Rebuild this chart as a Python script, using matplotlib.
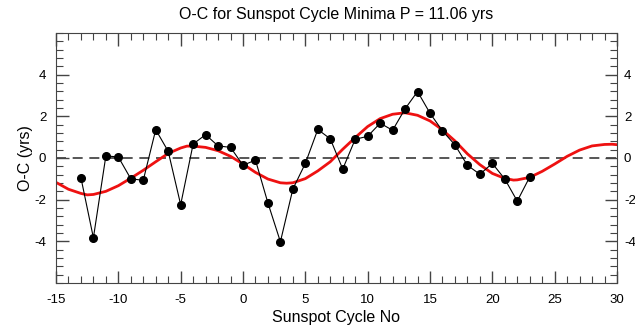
import matplotlib
matplotlib.use("Agg")
import matplotlib.pyplot as plt
from matplotlib.ticker import MultipleLocator

plt.rcParams['font.family'] = ['Liberation Sans', 'DejaVu Sans']
plt.rcParams['axes.unicode_minus'] = False

cycles = [-13, -12, -11, -10, -9, -8, -7, -6, -5, -4, -3, -2, -1, 0, 1, 2, 3, 4,
          5, 6, 7, 8, 9, 10, 11, 12, 13, 14, 15, 16, 17, 18, 19, 20, 21, 22, 23]
oc = [-0.95, -3.83, 0.10, 0.05, -1.00, -1.07, 1.36, 0.32, -2.24, 0.67, 1.12, 0.58,
      0.51, -0.35, -0.10, -2.16, -4.02, -1.49, -0.26, 1.37, 0.92, -0.53, 0.90,
      1.04, 1.67, 1.33, 2.36, 3.19, 2.15, 1.30, 0.63, -0.35, -0.78, -0.26, -1.01,
      -2.07, -0.91]

fit_x = [-15, -14, -13, -12.5, -12, -11, -10, -9, -8, -7, -6, -5, -4.5, -4, -3, -2,
         -1, 0, 1, 2, 3, 3.5, 4, 5, 6, 7, 8, 9, 10, 11, 12, 13, 14, 15, 16, 17,
         18, 19, 20, 21, 21.7, 22, 23, 24, 25, 26, 27, 28, 29, 29.6, 30]
fit_y = [-1.17, -1.50, -1.70, -1.77, -1.75, -1.60, -1.33, -0.97, -0.59, -0.18,
         0.22, 0.48, 0.57, 0.57, 0.51, 0.35, 0.08, -0.29, -0.69, -1.01, -1.19,
         -1.21, -1.19, -0.99, -0.62, -0.18, 0.42, 0.98, 1.51, 1.89, 2.10, 2.17,
         2.05, 1.78, 1.35, 0.82, 0.20, -0.32, -0.74, -0.98, -1.06, -1.05, -0.93,
         -0.64, -0.29, 0.08, 0.38, 0.58, 0.65, 0.66, 0.64]

yticks = [-4, -2, 0, 2, 4]

fig = plt.figure(figsize=(6.35, 3.26), dpi=100)
ax = fig.add_axes([56/635, 1-283/326, (617-56)/635, (283-33)/326])

ax.axhline(0, color='#3a3a3a', lw=1.2, ls=(0, (6, 4)), zorder=1)
ax.plot(fit_x, fit_y, color='#ee1111', lw=2.0, zorder=2)
ax.plot(cycles, oc, color='black', lw=0.8, marker='o', ms=5.5, zorder=3)

ax.set_xlim(-15, 30)
ax.set_ylim(-6, 6)
ax.xaxis.set_major_locator(MultipleLocator(5))
ax.xaxis.set_minor_locator(MultipleLocator(1))
ax.yaxis.set_minor_locator(MultipleLocator(0.4))
ax.set_yticks(yticks)
ax.tick_params(which='both', direction='in', top=True, right=True,
               labelsize=9.5, color='#444444')
ax.tick_params(axis='x', which='major', pad=8)
ax.tick_params(axis='y', which='major', pad=7)
ax.tick_params(which='major', length=9, width=1)
ax.tick_params(which='minor', length=5, width=0.8)
for s in ax.spines.values():
    s.set_color('#444444')

sec = ax.secondary_yaxis('right')
sec.set_yticks(yticks)
sec.tick_params(length=0, pad=5, labelsize=9.5)
sec.spines['right'].set_visible(False)

ax.set_title('O-C for Sunspot Cycle Minima P = 11.06 yrs', fontsize=11.5, pad=10)
ax.set_xlabel('Sunspot Cycle No', fontsize=11.5, labelpad=3)
ax.set_ylabel('O-C (yrs)', fontsize=11.5, labelpad=1)

fig.savefig('out.png', dpi=100)
